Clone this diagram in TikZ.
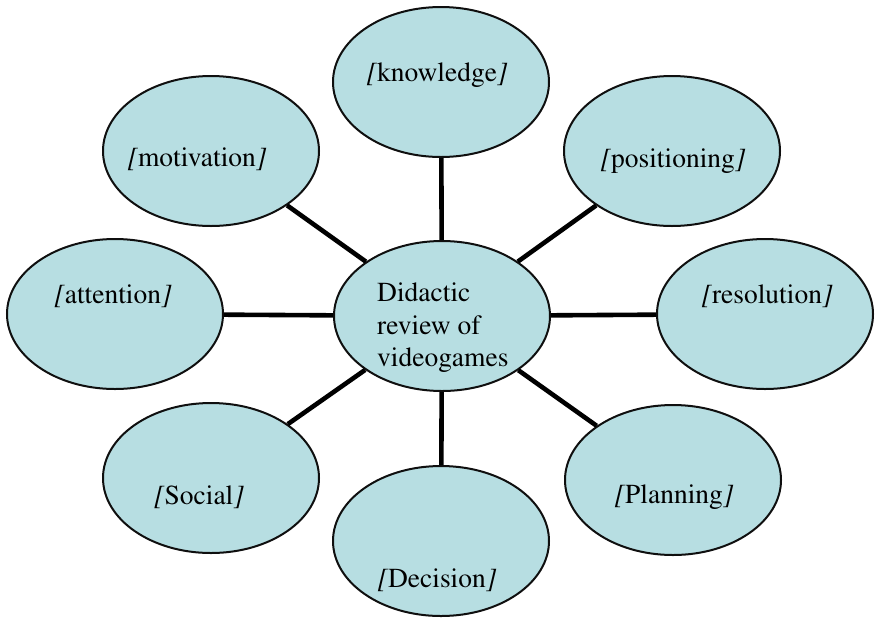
\documentclass[tikz,border=0pt]{standalone}
\usepackage[T1]{fontenc}
\usepackage{mathptmx}
\usetikzlibrary{shapes.geometric}
\definecolor{bubfill}{RGB}{183,222,226}
\definecolor{bubedge}{RGB}{15,15,15}
\tikzset{
  bubble/.style={
    ellipse, draw=bubedge, fill=bubfill, line width=2pt,
    minimum width=216pt, minimum height=150pt, inner sep=0pt
  },
  lbl/.style={inner sep=0pt, font=\fontsize{27.5}{32.5}\selectfont},
  link/.style={draw=black, line width=4.6pt},
}
% slanted brackets round each topic
\newcommand{\topic}[1]{{\itshape[}#1{\itshape]}}

\begin{document}
\begin{tikzpicture}[x=1pt,y=-1pt]
  \useasboundingbox (0,0) rectangle (875,625);
  \node[bubble] (hub) at (442,316) {};
  \node[bubble] (know) at (441,82) {};
  \node[bubble] (motiv) at (211,151) {};
  \node[bubble] (posit) at (672,151) {};
  \node[bubble] (atten) at (115,314) {};
  \node[bubble] (resol) at (765,314) {};
  \node[bubble] (social) at (211,478) {};
  \node[bubble] (plan) at (673,480) {};
  \node[bubble] (decis) at (441,541) {};
  \foreach \n in {know,motiv,posit,atten,resol,social,plan,decis}
    \draw[link] (hub) -- (\n);
  % labels sit a little off the ellipse centres
  \node[lbl, align=left, anchor=west] (hub-t) at (377,328) {Didactic\\review of\\videogames};
  \node[lbl] (know-t) at (437,75) {\topic{knowledge}};
  \node[lbl] (motiv-t) at (197,159) {\topic{motivation}};
  \node[lbl] (posit-t) at (673,161) {\topic{positioning}};
  \node[lbl] (atten-t) at (113,296) {\topic{attention}};
  \node[lbl] (resol-t) at (767,296) {\topic{resolution}};
  \node[lbl] (social-t) at (199,497) {\topic{Social}};
  \node[lbl] (plan-t) at (674,497) {\topic{Planning}};
  \node[lbl] (decis-t) at (437,580) {\topic{Decision}};
\end{tikzpicture}
\end{document}
